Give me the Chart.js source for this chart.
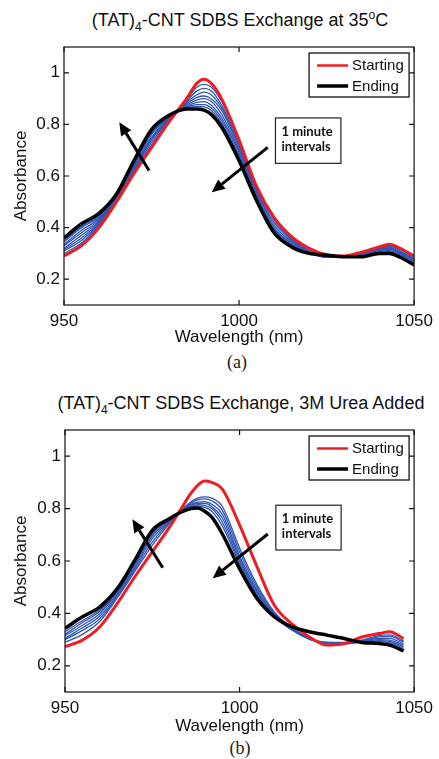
<!DOCTYPE html>
<html>
<head>
<meta charset="utf-8">
<script src="https://cdn.jsdelivr.net/npm/chart.js@4.4.0/dist/chart.umd.min.js"></script>
<style>
  body { margin: 0; width: 439px; height: 759px; background: #fff; position: relative; overflow: hidden; font-family: "Liberation Sans", Arial, sans-serif; }
  .box { position: absolute; left: 0; width: 439px; }
  .title { position: absolute; width: 400px; text-align: center; font-size: 18px; color: #111; white-space: nowrap; }
  .title sub { font-size: 12px; vertical-align: -5px; line-height: 0; }
  .title sup { font-size: 12px; vertical-align: 7px; line-height: 0; }
  .caption { position: absolute; width: 40px; text-align: center; font-family: "Liberation Serif", serif; font-size: 18px; color: #222; }
</style>
</head>
<body>
<div class="title" style="top:10px;left:40px">(TAT)<sub>4</sub>-CNT SDBS Exchange at 35<sup>o</sup>C</div>
<div class="box" style="top:0;height:350px"><canvas id="chartA"></canvas></div>
<div class="caption" style="top:352px;left:217px">(a)</div>

<div class="title" style="top:393px;left:41px">(TAT)<sub>4</sub>-CNT SDBS Exchange, 3M Urea Added</div>
<div class="box" style="top:380px;height:357px"><canvas id="chartB"></canvas></div>
<div class="caption" style="top:738px;left:220px">(b)</div>

<script>
// ---- panel (a): 35 C ----
const wavelengthA = [950, 955, 960, 965, 970, 975, 980, 985, 988, 990, 992, 995, 1000, 1005, 1010, 1015, 1020, 1025, 1030, 1035, 1040, 1043, 1046, 1050];
const startA = [0.29, 0.33, 0.40, 0.50, 0.61, 0.71, 0.81, 0.90, 0.96, 0.975, 0.96, 0.90, 0.74, 0.56, 0.44, 0.365, 0.32, 0.295, 0.29, 0.305, 0.325, 0.335, 0.32, 0.29];
const endA = [0.36, 0.415, 0.455, 0.53, 0.66, 0.78, 0.835, 0.86, 0.86, 0.855, 0.84, 0.79, 0.66, 0.505, 0.38, 0.325, 0.30, 0.293, 0.287, 0.287, 0.30, 0.30, 0.285, 0.255];
const minuteA1 = [0.30, 0.34, 0.41, 0.505, 0.615, 0.72, 0.815, 0.895, 0.945, 0.955, 0.945, 0.89, 0.735, 0.555, 0.435, 0.36, 0.315, 0.29, 0.288, 0.30, 0.32, 0.33, 0.315, 0.285];
const minuteA2 = [0.31, 0.35, 0.415, 0.51, 0.62, 0.73, 0.82, 0.89, 0.93, 0.94, 0.93, 0.875, 0.73, 0.55, 0.43, 0.355, 0.31, 0.288, 0.287, 0.298, 0.317, 0.327, 0.31, 0.28];
const minuteA3 = [0.315, 0.36, 0.42, 0.51, 0.625, 0.74, 0.82, 0.885, 0.915, 0.925, 0.915, 0.865, 0.72, 0.545, 0.42, 0.35, 0.307, 0.287, 0.286, 0.296, 0.315, 0.323, 0.305, 0.278];
const minuteA4 = [0.32, 0.37, 0.425, 0.515, 0.63, 0.745, 0.825, 0.88, 0.905, 0.91, 0.90, 0.855, 0.71, 0.54, 0.41, 0.345, 0.305, 0.286, 0.285, 0.294, 0.312, 0.32, 0.302, 0.275];
const minuteA5 = [0.33, 0.38, 0.43, 0.515, 0.635, 0.75, 0.828, 0.875, 0.895, 0.90, 0.89, 0.84, 0.70, 0.53, 0.40, 0.34, 0.303, 0.285, 0.285, 0.292, 0.31, 0.316, 0.298, 0.27];
const minuteA6 = [0.335, 0.39, 0.435, 0.52, 0.64, 0.76, 0.83, 0.87, 0.885, 0.888, 0.875, 0.825, 0.69, 0.525, 0.395, 0.335, 0.302, 0.285, 0.285, 0.29, 0.306, 0.312, 0.295, 0.268];
const minuteA7 = [0.345, 0.40, 0.44, 0.522, 0.645, 0.765, 0.832, 0.867, 0.877, 0.877, 0.865, 0.815, 0.68, 0.518, 0.39, 0.33, 0.301, 0.289, 0.285, 0.289, 0.303, 0.308, 0.29, 0.262];
const minuteA8 = [0.35, 0.405, 0.445, 0.525, 0.65, 0.77, 0.834, 0.864, 0.87, 0.868, 0.855, 0.805, 0.67, 0.512, 0.385, 0.328, 0.30, 0.288, 0.285, 0.288, 0.302, 0.304, 0.288, 0.26];

// ---- panel (b): 3M urea ----
const wavelengthB = [950, 955, 960, 965, 970, 975, 980, 983, 986, 988, 990, 992, 995, 1000, 1005, 1010, 1015, 1020, 1025, 1030, 1035, 1040, 1043, 1047];
const startB = [0.273, 0.298, 0.349, 0.438, 0.54, 0.635, 0.73, 0.794, 0.857, 0.889, 0.905, 0.90, 0.875, 0.738, 0.578, 0.43, 0.36, 0.31, 0.279, 0.285, 0.31, 0.323, 0.33, 0.304];
const endB = [0.343, 0.387, 0.425, 0.495, 0.603, 0.717, 0.762, 0.785, 0.80, 0.802, 0.79, 0.768, 0.705, 0.571, 0.457, 0.387, 0.349, 0.33, 0.317, 0.304, 0.289, 0.285, 0.279, 0.257];
const minuteB1 = [0.29, 0.32, 0.37, 0.46, 0.56, 0.66, 0.745, 0.79, 0.825, 0.84, 0.845, 0.84, 0.81, 0.65, 0.51, 0.405, 0.345, 0.305, 0.285, 0.285, 0.298, 0.315, 0.318, 0.295];
const minuteB2 = [0.30, 0.335, 0.38, 0.465, 0.568, 0.672, 0.75, 0.79, 0.82, 0.833, 0.837, 0.83, 0.795, 0.635, 0.50, 0.40, 0.343, 0.303, 0.284, 0.284, 0.295, 0.31, 0.312, 0.29];
const minuteB3 = [0.305, 0.345, 0.39, 0.472, 0.575, 0.685, 0.752, 0.79, 0.815, 0.825, 0.827, 0.817, 0.78, 0.62, 0.49, 0.396, 0.34, 0.302, 0.285, 0.284, 0.293, 0.305, 0.305, 0.283];
const minuteB4 = [0.315, 0.355, 0.40, 0.478, 0.582, 0.695, 0.755, 0.788, 0.812, 0.82, 0.82, 0.808, 0.765, 0.61, 0.482, 0.392, 0.338, 0.302, 0.286, 0.285, 0.291, 0.30, 0.298, 0.278];
const minuteB5 = [0.32, 0.365, 0.408, 0.483, 0.588, 0.702, 0.758, 0.787, 0.808, 0.815, 0.812, 0.80, 0.75, 0.60, 0.475, 0.39, 0.337, 0.303, 0.288, 0.287, 0.29, 0.296, 0.293, 0.272];
const minuteB6 = [0.33, 0.373, 0.414, 0.488, 0.594, 0.708, 0.76, 0.786, 0.805, 0.81, 0.805, 0.79, 0.735, 0.59, 0.468, 0.388, 0.337, 0.305, 0.29, 0.289, 0.289, 0.292, 0.288, 0.267];

const xTickValues = [950, 1000, 1050];
const yTickValues = [0.2, 0.4, 0.6, 0.8, 1];

const RED = '#ee1d23';
const BLUE = '#2f55b4';

function toPoints(xs, ys) {
  return ys.map((y, i) => ({ x: xs[i], y: y }));
}

function drawArrow(ctx, x1, y1, x2, y2) {
  const ang = Math.atan2(y2 - y1, x2 - x1);
  const hl = 13, hw = 6;
  const bx = x2 - hl * Math.cos(ang), by = y2 - hl * Math.sin(ang);
  ctx.beginPath();
  ctx.moveTo(x1, y1);
  ctx.lineTo(bx, by);
  ctx.lineWidth = 3;
  ctx.stroke();
  ctx.beginPath();
  ctx.moveTo(x2, y2);
  ctx.lineTo(bx + hw * Math.sin(ang), by - hw * Math.cos(ang));
  ctx.lineTo(bx - hw * Math.sin(ang), by + hw * Math.cos(ang));
  ctx.closePath();
  ctx.fill();
}

// matlab-ish box, inward ticks, legend, note and arrows
const matlabFrame = {
  id: 'matlabFrame',
  afterDatasetsDraw(chart, args, opts) {
    const { ctx, chartArea: a, scales: { x, y } } = chart;
    ctx.save();
    ctx.strokeStyle = '#111';
    ctx.lineWidth = 1.2;
    ctx.strokeRect(a.left, a.top, a.right - a.left, a.bottom - a.top);
    ctx.beginPath();
    x.ticks.forEach(t => {
      const px = x.getPixelForValue(t.value);
      ctx.moveTo(px, a.bottom); ctx.lineTo(px, a.bottom - 5);
      ctx.moveTo(px, a.top); ctx.lineTo(px, a.top + 5);
    });
    y.ticks.forEach(t => {
      const py = y.getPixelForValue(t.value);
      ctx.moveTo(a.left, py); ctx.lineTo(a.left + 5, py);
      ctx.moveTo(a.right, py); ctx.lineTo(a.right - 5, py);
    });
    ctx.stroke();

    // legend
    const lx = a.right - 105, ly = a.top + 6;
    ctx.fillStyle = '#fff';
    ctx.fillRect(lx, ly, 100, 44);
    ctx.lineWidth = 1.3;
    ctx.strokeRect(lx, ly, 100, 44);
    ctx.lineWidth = 2.5;
    ctx.strokeStyle = RED;
    ctx.beginPath(); ctx.moveTo(lx + 8, ly + 12.5); ctx.lineTo(lx + 39, ly + 12.5); ctx.stroke();
    ctx.lineWidth = 3.5;
    ctx.strokeStyle = '#000';
    ctx.beginPath(); ctx.moveTo(lx + 8, ly + 33); ctx.lineTo(lx + 39, ly + 33); ctx.stroke();
    ctx.fillStyle = '#111';
    ctx.font = '15px "Liberation Sans", Arial, sans-serif';
    ctx.textBaseline = 'middle';
    ctx.textAlign = 'left';
    ctx.fillText('Starting', lx + 43, ly + 13);
    ctx.fillText('Ending', lx + 43, ly + 33.5);

    // note box
    const n = opts.note;
    const nx1 = x.getPixelForValue(n.x1), ny1 = y.getPixelForValue(n.y1);
    const nx2 = x.getPixelForValue(n.x2), ny2 = y.getPixelForValue(n.y2);
    ctx.fillStyle = '#fff';
    ctx.fillRect(nx1, ny1, nx2 - nx1, ny2 - ny1);
    ctx.strokeStyle = '#222';
    ctx.lineWidth = 1.2;
    ctx.strokeRect(nx1, ny1, nx2 - nx1, ny2 - ny1);
    ctx.fillStyle = '#111';
    ctx.font = 'bold 13px Lato, "Open Sans", sans-serif';
    ctx.fillText('1 minute', nx1 + 6, ny1 + 13.5);
    ctx.fillText('intervals', nx1 + 6, ny1 + 28.5);

    // arrows
    ctx.strokeStyle = '#000';
    ctx.fillStyle = '#000';
    opts.arrows.forEach(ar => {
      drawArrow(ctx, x.getPixelForValue(ar[0]), y.getPixelForValue(ar[1]),
                     x.getPixelForValue(ar[2]), y.getPixelForValue(ar[3]));
    });
    ctx.restore();
  }
};

function makeChart(id, xs, start, end, minutes, frame, pad) {
  const datasets = [
    { label: 'Ending', data: toPoints(xs, end), borderColor: '#000', borderWidth: 3.5 },
    { label: 'Starting', data: toPoints(xs, start), borderColor: RED, borderWidth: 3 }
  ];
  minutes.forEach((m, i) => {
    datasets.push({ label: 'min ' + (i + 1), data: toPoints(xs, m), borderColor: BLUE, borderWidth: 1.3 });
  });
  return new Chart(document.getElementById(id), {
    type: 'line',
    data: { datasets },
    plugins: [matlabFrame],
    options: {
      responsive: true,
      maintainAspectRatio: false,
      animation: false,
      layout: { padding: { top: pad.top, right: 21, left: 0, bottom: 0 } },
      elements: { point: { radius: 0 }, line: { cubicInterpolationMode: 'monotone' } },
      plugins: {
        legend: { display: false },
        tooltip: { enabled: false },
        matlabFrame: frame
      },
      scales: {
        x: {
          type: 'linear', min: 950, max: 1050,
          afterBuildTicks: s => { s.ticks = xTickValues.map(v => ({ value: v })); },
          afterFit: s => { s.height = pad.xh; },
          grid: { display: false, drawTicks: false },
          border: { display: false },
          ticks: { autoSkip: false, maxRotation: 0, padding: 6, color: '#111', font: { family: '"Liberation Sans", Arial', size: 17 },
                   callback: v => String(v) },
          title: { display: true, text: 'Wavelength (nm)', color: '#111', padding: { top: 0, bottom: pad.tb }, font: { family: '"Liberation Sans", Arial', size: 17 } }
        },
        y: {
          min: 0.1, max: 1.1,
          afterBuildTicks: s => { s.ticks = yTickValues.map(v => ({ value: v })); },
          afterFit: s => { s.width = pad.left; },
          grid: { display: false, drawTicks: false },
          border: { display: false },
          ticks: { padding: 4, color: '#111', font: { family: '"Liberation Sans", Arial', size: 17 },
                   callback: v => (v === 1 ? '1' : v.toFixed(1)) },
          title: { display: true, text: 'Absorbance', color: '#111', padding: { top: 11, bottom: 0 }, font: { family: '"Liberation Sans", Arial', size: 17 } }
        }
      }
    }
  });
}

makeChart('chartA', wavelengthA, startA, endA,
  [minuteA1, minuteA2, minuteA3, minuteA4, minuteA5, minuteA6, minuteA7, minuteA8],
  { note: { x1: 1010.4, y1: 0.825, x2: 1029.1, y2: 0.649 },
    arrows: [[974.3, 0.621, 965.8, 0.808], [1008.2, 0.711, 992.2, 0.537]] },
  { top: 47, left: 64, xh: 45, tb: 2 });

makeChart('chartB', wavelengthB, startB, endB,
  [minuteB1, minuteB2, minuteB3, minuteB4, minuteB5, minuteB6],
  { note: { x1: 1010.4, y1: 0.813, x2: 1029.1, y2: 0.642 },
    arrows: [[978.0, 0.574, 969.3, 0.759], [1008.1, 0.703, 992.3, 0.534]] },
  { top: 50, left: 65, xh: 45, tb: 0 });
</script>
</body>
</html>
